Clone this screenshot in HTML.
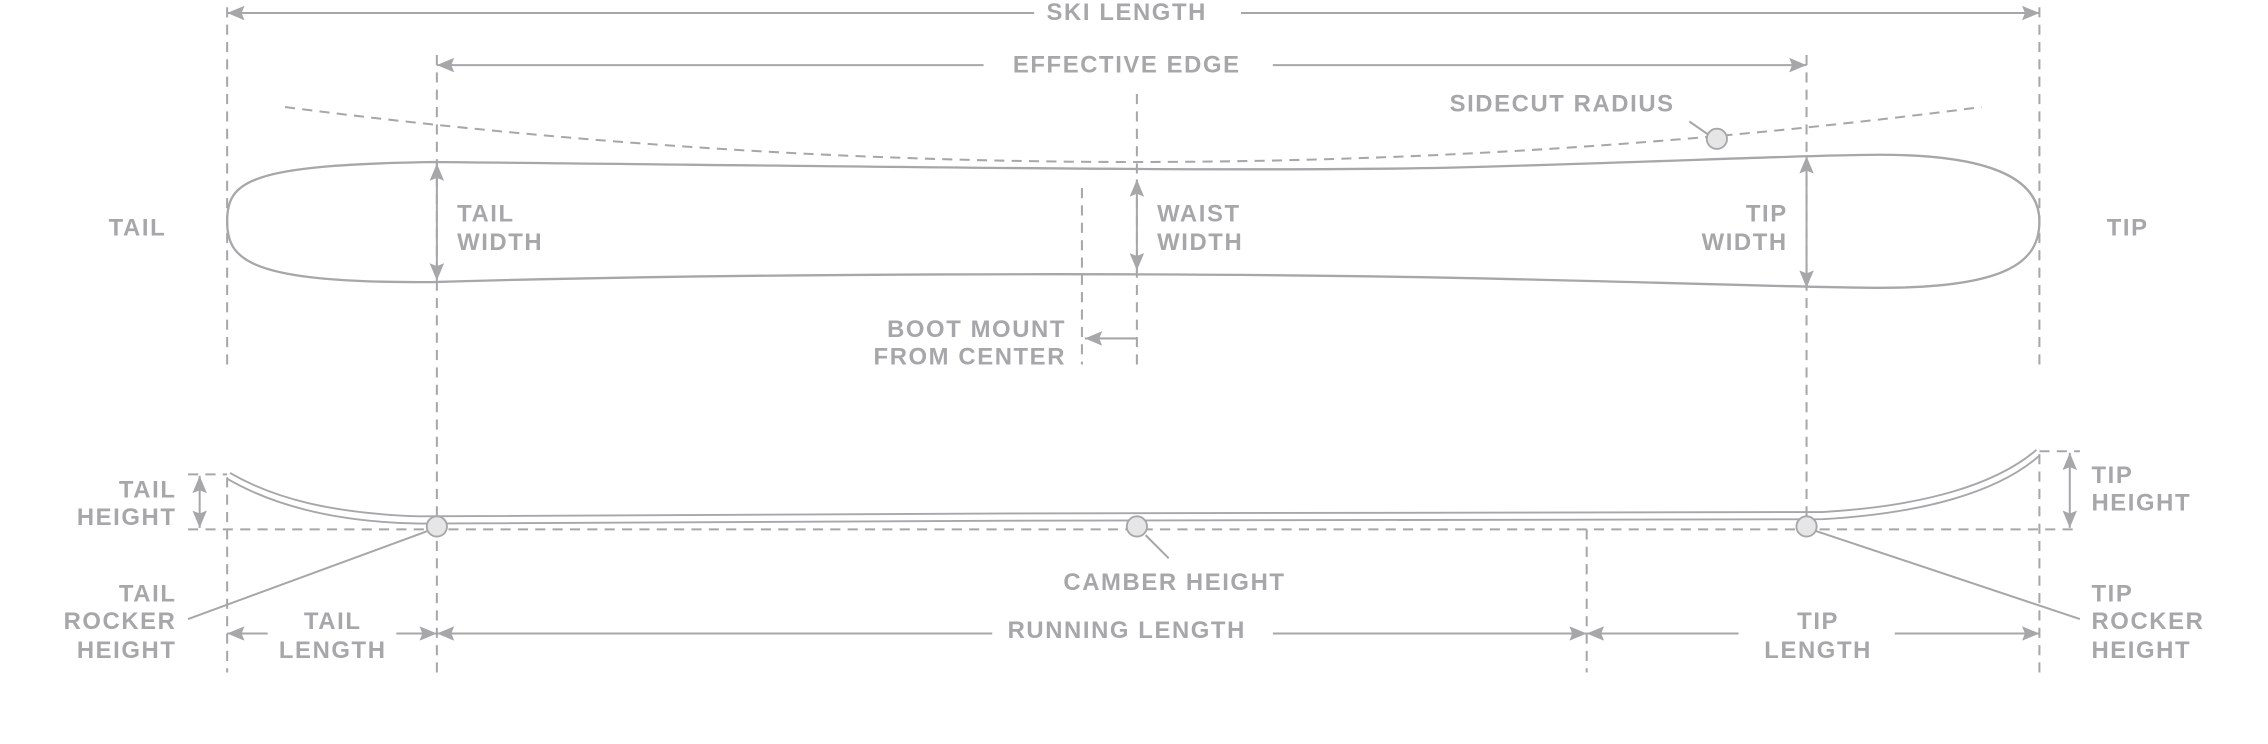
<!DOCTYPE html>
<html><head><meta charset="utf-8"><style>
html,body{margin:0;padding:0;background:#fff;}
svg{display:block;}
text{font-family:"Liberation Sans",sans-serif;font-weight:bold;font-size:16.5px;fill:#a7a7aa;letter-spacing:1.1px;}
</style></head><body>
<svg width="2268" height="744" viewBox="0 0 1568 514.4" xmlns="http://www.w3.org/2000/svg">
<defs>
<marker id="a" viewBox="0 0 12 10" refX="12" refY="5" markerWidth="12" markerHeight="10" markerUnits="userSpaceOnUse" orient="auto-start-reverse"><path d="M0 0 L12 5 L0 10 L2 5 Z" fill="#a7a7aa"/></marker>
</defs>
<g stroke="#a7a7aa" fill="none" stroke-width="1.4">
<g stroke-dasharray="7,5">
<line x1="157" y1="5" x2="157" y2="252"/>
<line x1="1410" y1="5" x2="1410" y2="252"/>
<line x1="302" y1="38" x2="302" y2="465"/>
<line x1="1249" y1="38" x2="1249" y2="362"/>
<line x1="748" y1="130" x2="748" y2="252"/>
<line x1="786" y1="65" x2="786" y2="252"/>
<line x1="157" y1="330" x2="157" y2="465"/>
<line x1="1410" y1="314" x2="1410" y2="465"/>
<line x1="1097" y1="366" x2="1097" y2="465"/>
<line x1="130" y1="366" x2="1438" y2="366"/>
<line x1="130" y1="328" x2="157" y2="328"/>
<line x1="1410" y1="312" x2="1438" y2="312"/>
<path d="M197 74 Q786 150 1370 74"/>
</g>
<!-- one-sided arrows -->
<line x1="715" y1="9" x2="157" y2="9" marker-end="url(#a)"/>
<line x1="858" y1="9" x2="1410" y2="9" marker-end="url(#a)"/>
<line x1="680" y1="45" x2="302" y2="45" marker-end="url(#a)"/>
<line x1="880" y1="45" x2="1249" y2="45" marker-end="url(#a)"/>
<line x1="185" y1="438" x2="157" y2="438" marker-end="url(#a)"/>
<line x1="274" y1="438" x2="302" y2="438" marker-end="url(#a)"/>
<line x1="686" y1="438" x2="302" y2="438" marker-end="url(#a)"/>
<line x1="880" y1="438" x2="1097" y2="438" marker-end="url(#a)"/>
<line x1="1202" y1="438" x2="1097" y2="438" marker-end="url(#a)"/>
<line x1="1310" y1="438" x2="1410" y2="438" marker-end="url(#a)"/>
<line x1="786" y1="234" x2="750" y2="234" marker-end="url(#a)"/>
<!-- double arrows -->
<line x1="302" y1="113" x2="302" y2="194" marker-start="url(#a)" marker-end="url(#a)"/>
<line x1="786" y1="124" x2="786" y2="187" marker-start="url(#a)" marker-end="url(#a)"/>
<line x1="1249" y1="108" x2="1249" y2="199" marker-start="url(#a)" marker-end="url(#a)"/>
<line x1="138" y1="329" x2="138" y2="365" marker-start="url(#a)" marker-end="url(#a)"/>
<line x1="1431" y1="313" x2="1431" y2="365" marker-start="url(#a)" marker-end="url(#a)"/>
<!-- ski top -->
<path stroke-width="1.6" d="M157 153 C157 125 172 114 300 112 C600 115 850 119 1000 116 C1150 112 1250 107 1300 107 C1390 107 1410 130 1410 153 C1410 180 1390 199 1300 199 C1250 199 1150 195 1000 192 C800 188 500 189 300 195 C172 196 157 180 157 153 Z"/>
<!-- ski side -->
<path stroke-width="1.3" d="M159 327 C190 345 230 355 290 357 L700 355 C900 354 1100 356 1260 354 C1330 350 1380 335 1408 311"/>
<path stroke-width="1.3" d="M157 331 C188 349 230 361 290 362 L700 360 C900 359 1100 361 1260 359 C1330 355 1382 340 1410 315"/>
<line x1="296" y1="367" x2="130" y2="428"/>
<line x1="1255" y1="367" x2="1438" y2="428"/>
<line x1="792" y1="370" x2="808" y2="386"/>
<line x1="1181" y1="93" x2="1168" y2="84"/>
</g>
<g fill="#e6e6e7" stroke="#a7a7aa" stroke-width="1.3">
<circle cx="1187" cy="96" r="7"/>
<circle cx="302" cy="364" r="7"/>
<circle cx="786" cy="364" r="7"/>
<circle cx="1249" cy="364" r="7"/>
</g>
<text x="779" y="14" text-anchor="middle">SKI LENGTH</text>
<text x="779" y="50" text-anchor="middle">EFFECTIVE EDGE</text>
<text x="1080" y="77" text-anchor="middle">SIDECUT RADIUS</text>
<text x="95" y="163" text-anchor="middle">TAIL</text>
<text x="1471" y="163" text-anchor="middle">TIP</text>
<text x="316" y="153">TAIL</text><text x="316" y="173">WIDTH</text>
<text x="800" y="153">WAIST</text><text x="800" y="173">WIDTH</text>
<text x="1236" y="153" text-anchor="end">TIP</text><text x="1236" y="173" text-anchor="end">WIDTH</text>
<text x="737" y="233" text-anchor="end">BOOT MOUNT</text><text x="737" y="252" text-anchor="end">FROM CENTER</text>
<text x="122" y="344" text-anchor="end">TAIL</text><text x="122" y="363" text-anchor="end">HEIGHT</text>
<text x="1446" y="334">TIP</text><text x="1446" y="353">HEIGHT</text>
<text x="812" y="408" text-anchor="middle">CAMBER HEIGHT</text>
<text x="122" y="416" text-anchor="end">TAIL</text><text x="122" y="435" text-anchor="end">ROCKER</text><text x="122" y="455" text-anchor="end">HEIGHT</text>
<text x="1446" y="416">TIP</text><text x="1446" y="435">ROCKER</text><text x="1446" y="455">HEIGHT</text>
<text x="230" y="435" text-anchor="middle">TAIL</text><text x="230" y="455" text-anchor="middle">LENGTH</text>
<text x="779" y="441" text-anchor="middle">RUNNING LENGTH</text>
<text x="1257" y="435" text-anchor="middle">TIP</text><text x="1257" y="455" text-anchor="middle">LENGTH</text>
</svg>
</body></html>
